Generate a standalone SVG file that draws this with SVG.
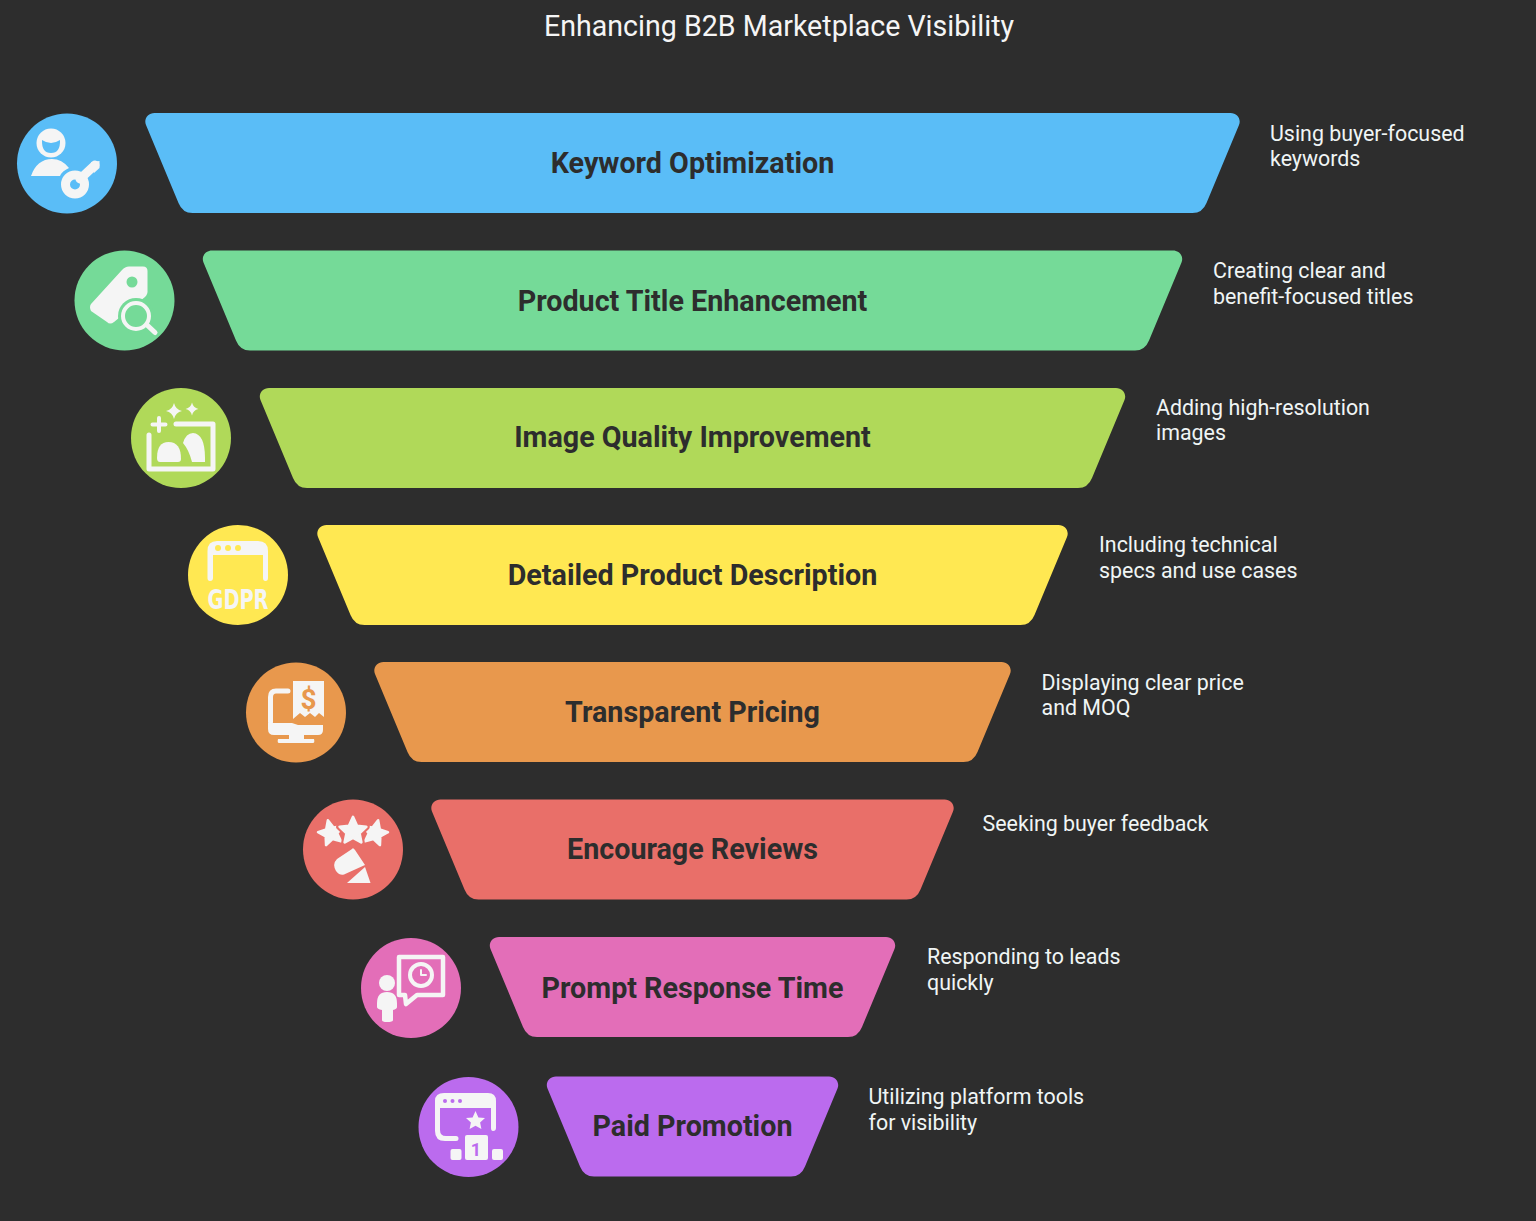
<svg xmlns="http://www.w3.org/2000/svg" width="1536" height="1221" viewBox="0 0 1536 1221">
<style>
text{font-family:Roboto,"Liberation Sans",sans-serif}
.t{font-size:28.700px;font-weight:700;fill:#2d2d2d;text-anchor:middle}
.d{font-size:21.400px;fill:#f0f5f5}
.h{font-size:28.600px;fill:#f5f5f5;text-anchor:middle}
.w{fill:#f5f5f5}
.s{fill:none;stroke:#f5f5f5;stroke-linecap:round;stroke-linejoin:round}
</style>
<defs>
<path id="star" d="M0-10 2.900-3.600 9.500-3 4.600 1.600 5.900 8.100 0 4.800-5.900 8.100-4.600 1.600-9.500-3-2.900-3.600Z"/>
<path id="spark" d="M0-8Q1.500-1.500 8 0Q1.500 1.500 0 8Q-1.500 1.500-8 0Q-1.500-1.500 0-8Z"/>
</defs>
<rect width="1536" height="1221" fill="#2d2d2d"/>
<text class="h" x="779" y="35.500">Enhancing B2B Marketplace Visibility</text>

<g id="node-keyword">
<path fill="#5abdf7" d="M154.500 113H1230.500C1237 113 1241.500 119 1239 125L1206.500 203Q1202.500 213 1192.500 213H192.500Q182.500 213 178.500 203L146 125C143.500 119 148 113 154.500 113Z"/>
<text class="t" x="692.500" y="173">Keyword Optimization</text>
<circle cx="67" cy="163.500" r="50" fill="#5abdf7"/>
<circle cx="51" cy="143" r="14.500" class="w"/>
<path d="M42 140Q51 146 60 140Q60.500 153 51 153Q41.500 153 42 140Z" fill="#5abdf7"/>
<path class="w" d="M31 176Q37 159 52 159Q62 159 69 168Q62 171 60 176Z"/>
<path class="s" stroke-width="9" d="M80 179 95 165"/>
<path class="w" d="M91 162 99.500 161V168L94 173Z"/>
<circle cx="75" cy="184.500" r="9.500" fill="none" stroke="#f5f5f5" stroke-width="9"/>
</g>

<g id="node-title">
<path fill="#75da98" d="M212 250.500H1173C1179.500 250.500 1184 256.500 1181.500 262.500L1149 340.500Q1145 350.500 1135 350.500H250Q240 350.500 236 340.500L203.500 262.500C201 256.500 205.500 250.500 212 250.500Z"/>
<text class="t" x="692.500" y="310.500">Product Title Enhancement</text>
<circle cx="124.500" cy="300.500" r="50" fill="#75da98"/>
<path class="w" d="M91 304 122 270Q125 266.500 129 266.500H143Q147.500 266.500 147.500 271V290Q148 294 145 297L114 322Q110 325 107 322L91 311Q89 307 91 304Z"/>
<circle cx="132" cy="282" r="5.500" fill="#75da98"/>
<circle cx="136" cy="316" r="18" fill="#75da98"/>
<circle cx="136" cy="316" r="13" fill="none" stroke="#f5f5f5" stroke-width="4"/>
<path class="s" stroke-width="5" d="M147 325 155 332.500"/>
</g>

<g id="node-image">
<path fill="#b0d959" d="M269 388H1116C1122.500 388 1127 394 1124.500 400L1092 478Q1088 488 1078 488H307Q297 488 293 478L260.500 400C258 394 262.500 388 269 388Z"/>
<text class="t" x="692.500" y="447">Image Quality Improvement</text>
<circle cx="181" cy="438" r="50" fill="#b0d959"/>
<path class="s" stroke-width="5" d="M149 435V469H213V424H176"/>
<path class="w" d="M157 458Q157 442 168.500 442Q181 442 181 459Q181 462 178 462H160Q157 462 157 458Z"/>
<path class="w" d="M192 462Q189 450 183 443Q186 433 193 433Q205 434 205 458V462Z"/>
<use href="#spark" class="w" transform="translate(174 411)"/>
<use href="#spark" class="w" transform="translate(192 409) scale(.8)"/>
<path class="s" stroke-width="4" d="M159 418V431M152.500 424.500H165.500"/>
</g>

<g id="node-description">
<path fill="#ffe852" d="M326.500 525H1058.500C1065 525 1069.500 531 1067 537L1034.500 615Q1030.500 625 1020.500 625H364.500Q354.500 625 350.500 615L318 537C315.500 531 320 525 326.500 525Z"/>
<text class="t" x="692.500" y="584.500">Detailed Product Description</text>
<circle cx="238" cy="575" r="50" fill="#ffe852"/>
<path class="w" d="M207.500 578V551Q207.500 541 217 541H258Q268 541 268 551V578Q268 581 265.500 581Q263 581 263 578V555H213V578Q213 581 210 581Q207.500 581 207.500 578Z"/>
<circle cx="218" cy="548" r="3" fill="#ffe852"/><circle cx="228" cy="548" r="3" fill="#ffe852"/><circle cx="238" cy="548" r="3" fill="#ffe852"/>
<text x="238" y="609" text-anchor="middle" textLength="61" lengthAdjust="spacingAndGlyphs" style="font-family:'DejaVu Sans',sans-serif;font-weight:700;font-size:27px" fill="#f5f5f5">GDPR</text>
</g>

<g id="node-pricing">
<path fill="#e8984d" d="M383.500 662H1001.500C1008 662 1012.500 668 1010 674L977.500 752Q973.500 762 963.500 762H421.500Q411.500 762 407.500 752L375 674C372.500 668 377 662 383.500 662Z"/>
<text class="t" x="692.500" y="721.500">Transparent Pricing</text>
<circle cx="296" cy="712.500" r="50" fill="#e8984d"/>
<path class="w" d="M293 681H324V717L319 713 315 717 310 713 305 717 300 713 293 719Z"/>
<text x="308.500" y="708.500" text-anchor="middle" style="font-size:28px;font-weight:700" fill="#e8984d">$</text>
<path class="s" stroke-width="5" d="M288 691H276Q270.500 691 270.500 697V722"/>
<path class="w" d="M268 723H292L298 725H323V730Q323 735 318 735H274Q268 735 268 729Z"/>
<path class="w" d="M289 735H304V739H314Q315 743 313 743H279Q277 743 278 739H289Z"/>
</g>

<g id="node-reviews">
<path fill="#e96f69" d="M440.500 799.500H944.500C951 799.500 955.500 805.500 953 811.500L920.500 889.500Q916.500 899.500 906.500 899.500H478.500Q468.500 899.500 464.500 889.500L432 811.500C429.500 805.500 434 799.500 440.500 799.500Z"/>
<text class="t" x="692.500" y="859">Encourage Reviews</text>
<circle cx="353" cy="849.500" r="50" fill="#e96f69"/>
<use href="#star" class="w" stroke="#f5f5f5" stroke-width="2" stroke-linejoin="round" transform="translate(331 833) rotate(-14) scale(1.300)"/>
<use href="#star" class="w" stroke="#f5f5f5" stroke-width="2" stroke-linejoin="round" transform="translate(375 833) rotate(14) scale(1.300)"/>
<use href="#star" fill="#e96f69" stroke="#e96f69" stroke-width="5" stroke-linejoin="round" transform="translate(353 831) scale(1.400)"/>
<use href="#star" class="w" stroke="#f5f5f5" stroke-width="2" stroke-linejoin="round" transform="translate(353 831) scale(1.400)"/>
<path class="w" d="M352 849Q353 847 355 850L365 865 344 874.500Q340 876 336 871Q332 864 337 859Z"/>
<path class="w" d="M347 883 365 867 370.500 883Z"/>
</g>

<g id="node-response">
<path fill="#e36eb8" d="M499 937H886C892.500 937 897 943 894.500 949L862 1027Q858 1037 848 1037H537Q527 1037 523 1027L490.500 949C488 943 492.500 937 499 937Z"/>
<text class="t" x="692.500" y="997.500">Prompt Response Time</text>
<circle cx="411" cy="988" r="50" fill="#e36eb8"/>
<path class="s" stroke-width="4.500" d="M399 957H443V995H417L406 1004 405 995H399Z"/>
<circle cx="421" cy="975" r="11" fill="none" stroke="#f5f5f5" stroke-width="4"/>
<path class="s" stroke-width="2" d="M421 970V975H426"/>
<circle cx="387" cy="983" r="8" class="w"/>
<path class="w" d="M377 1003Q377 992 387 992Q397 992 397 1003V1007Q397 1009 393 1010V1020Q393 1022 387 1022Q382 1022 382 1020V1010Q377 1009 377 1007Z"/>
</g>

<g id="node-promotion">
<path fill="#bb6bee" d="M556 1076.500H829C835.500 1076.500 840 1082.500 837.500 1088.500L805 1166.500Q801 1176.500 791 1176.500H594Q584 1176.500 580 1166.500L547.500 1088.500C545 1082.500 549.500 1076.500 556 1076.500Z"/>
<text class="t" x="692.500" y="1136">Paid Promotion</text>
<circle cx="468.500" cy="1127" r="50" fill="#bb6bee"/>
<path class="w" d="M444 1093H488Q496 1093 496 1101V1128Q496 1131 493 1131Q491 1131 491 1128V1108H440V1130Q440 1136 446 1136H456Q458.500 1136 458.500 1138.500Q458.500 1141 456 1141H445Q435 1141 435 1131V1101Q435 1093 444 1093Z"/>
<circle cx="445" cy="1101" r="2" fill="#bb6bee"/><circle cx="452.500" cy="1101" r="2" fill="#bb6bee"/><circle cx="460" cy="1101" r="2" fill="#bb6bee"/>
<use href="#star" class="w" transform="translate(475.500 1121)"/>
<rect x="465" y="1135" width="23" height="25" rx="2" class="w"/>
<rect x="450.500" y="1149" width="11" height="11" rx="2" class="w"/>
<rect x="492" y="1149" width="11" height="11" rx="2" class="w"/>
<text x="476" y="1156" text-anchor="middle" style="font-size:18px;font-weight:700" fill="#bb6bee">1</text>
</g>

<g id="labels">
<text class="d" x="1270" y="140.500">Using buyer-focused</text><text class="d" x="1270" y="166">keywords</text>
<text class="d" x="1213" y="277.500">Creating clear and</text><text class="d" x="1213" y="303.500">benefit-focused titles</text>
<text class="d" x="1156" y="414.500">Adding high-resolution</text><text class="d" x="1156" y="440">images</text>
<text class="d" x="1099" y="551.500">Including technical</text><text class="d" x="1099" y="577.500">specs and use cases</text>
<text class="d" x="1041.500" y="689.500">Displaying clear price</text><text class="d" x="1041.500" y="714.500">and MOQ</text>
<text class="d" x="982.500" y="830.500">Seeking buyer feedback</text>
<text class="d" x="927" y="963.500">Responding to leads</text><text class="d" x="927" y="989.500">quickly</text>
<text class="d" x="868.500" y="1103.500">Utilizing platform tools</text><text class="d" x="868.500" y="1129.500">for visibility</text>
</g>
<g id="connectors"/>
</svg>
